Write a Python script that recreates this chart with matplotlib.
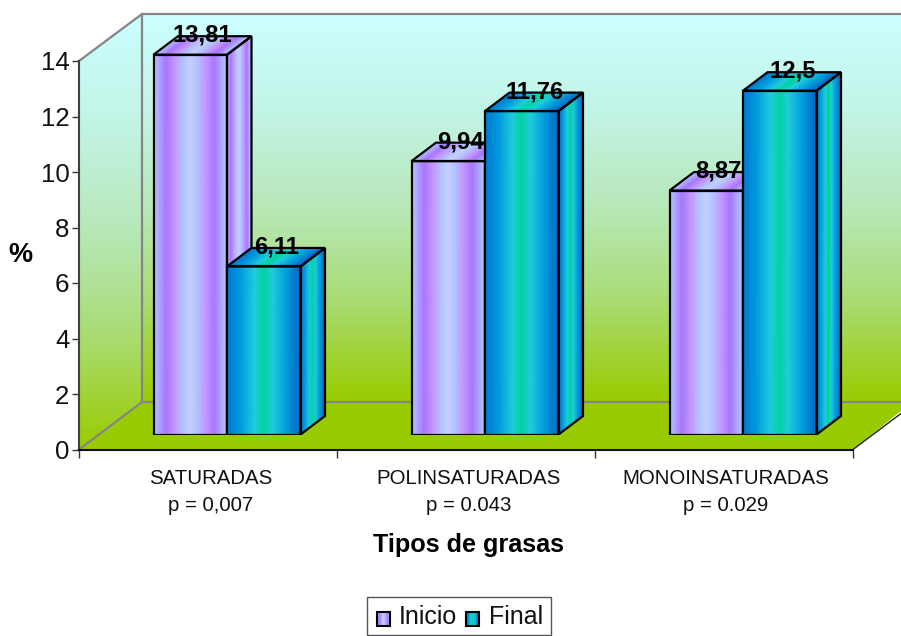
import numpy as np
import matplotlib.pyplot as plt
from matplotlib.colors import LinearSegmentedColormap
from matplotlib.patches import Polygon, Rectangle

plt.rcParams['font.family'] = ['Liberation Sans', 'DejaVu Sans']

# Datos
categorias = ['SATURADAS\np = 0,007', 'POLINSATURADAS\np = 0.043', 'MONOINSATURADAS\np = 0.029']
inicio = [13.81, 9.94, 8.87]
final = [6.11, 11.76, 12.5]
etiq_inicio = ['13,81', '9,94', '8,87']
etiq_final = ['6,11', '11,76', '12,5']
ticks_y = [0, 2, 4, 6, 8, 10, 12, 14]

W, H = 901, 636

# Gradientes
morado = LinearSegmentedColormap.from_list('morado', [
    (0.0, '#B4CCFF'), (0.17, '#A878FF'), (0.30, '#C898FF'), (0.40, '#B0C4FF'),
    (0.50, '#C8D0FF'), (0.60, '#B0C4FF'), (0.70, '#C898FF'), (0.83, '#A878FF'),
    (1.0, '#B4CCFF')])
turquesa = LinearSegmentedColormap.from_list('turquesa', [
    (0.0, '#0078D0'), (0.18, '#009ADD'), (0.38, '#22CCDC'), (0.50, '#00D4A0'),
    (0.62, '#22CCDC'), (0.82, '#009ADD'), (1.0, '#0068C4')])
pared = LinearSegmentedColormap.from_list('pared', [
    (0.0, '#CCFFFF'), (0.25, '#C2F4E6'), (0.5, '#B7E8B8'),
    (0.75, '#A9DB70'), (1.0, '#99CC00')])

fig = plt.figure(figsize=(W / 100, H / 100), dpi=100, facecolor='white')


def caja(x0, y_abajo, ancho, alto):
    return [x0 / W, 1 - y_abajo / H, ancho / W, alto / H]


# Fondo: paredes y suelo del grafico 3D, en pixeles
fondo = fig.add_axes([0, 0, 1, 1], zorder=0)
fondo.set_xlim(0, W)
fondo.set_ylim(H, 0)
fondo.axis('off')

grad = np.linspace(0, 1, 256).reshape(-1, 1)
im = fondo.imshow(grad, cmap=pared, extent=(142, W, 402, 14), aspect='auto', zorder=1)
im2 = fondo.imshow(grad, cmap=pared, extent=(79, 142, 449.5, 14), aspect='auto', zorder=1)
im2.set_clip_path(Polygon([(79, 61), (142, 14), (142, 402), (79, 449.5)],
                          transform=fondo.transData))
fondo.set_xlim(0, W)
fondo.set_ylim(H, 0)
fondo.add_patch(Polygon([(79, 449.5), (142, 402), (W + 20, 402), (W + 20, 395), (853, 449.5)],
                        fc='#99CC00', ec='none', zorder=2))
gris = '#858585'
fondo.plot([79, 142, W], [61, 14, 14], color=gris, lw=1.6, zorder=3)
fondo.plot([142, 142], [14, 402], color=gris, lw=1.6, zorder=3)
fondo.plot([142, W], [402, 402], color=gris, lw=1.6, zorder=3)
fondo.plot([79, 142], [449.5, 402], color=gris, lw=1.6, zorder=3)
fondo.plot([853, W], [449.5, 413.5], color='#222222', lw=1.0, zorder=3)

# Ejes frontales
ax = fig.add_axes(caja(79, 449.5, 774, 388.5), zorder=1)
ax.patch.set_alpha(0)
ax.set_xlim(0, 3)
ax.set_ylim(0, 14)
ax.spines['top'].set_visible(False)
ax.spines['right'].set_visible(False)
ax.spines['left'].set_color('#404040')
ax.spines['left'].set_linewidth(1.5)
ax.spines['bottom'].set_color('#111111')
ax.spines['bottom'].set_linewidth(1.5)
ax.set_yticks(ticks_y)
ax.set_yticklabels(ticks_y, fontsize=18.6, color='#111111')
ax.set_xticks([0, 1, 2, 3])
ax.set_xticklabels([])
ax.set_xticks([0.51, 1.51, 2.505], labels=categorias, minor=True, fontsize=14.7, color='#111111',
              linespacing=1.55)
ax.tick_params(axis='x', which='minor', length=0, pad=14)
ax.tick_params(axis='x', which='major', length=6, width=1, color='#333333')
ax.tick_params(axis='y', length=5, width=1, color='#333333', pad=2)

fig.text(20.5 / W, 1 - 255 / H, '%', fontsize=19.5, fontweight='bold', ha='center', va='center')
fig.text(468.5 / W, 1 - 545 / H, 'Tipos de grasas', fontsize=18.2, fontweight='bold',
         ha='center', va='center')

# Barras sobre el plano del suelo
barras = fig.add_axes(caja(98, 434.5, 774, 440), zorder=2)
barras.patch.set_alpha(0)
barras.axis('off')
barras.set_xlim(0, 3)
barras.set_ylim(0, 16)

ancho = 73.5 / 258
prof_x = 24.5 / 258
prof_y = 18.5 / 27.5
t = np.linspace(0, 1, 60)
C = np.vstack([t, t])


def cara(xa, ya, xb, yb, xc, yc, cmap):
    # cuadrilatero con bandas que corren de a -> b, extendido hasta c
    X = np.vstack([xa + (xb - xa) * t, xa + (xb - xa) * t + (xc - xb)])
    Y = np.vstack([ya + (yb - ya) * t, ya + (yb - ya) * t + (yc - yb)])
    barras.pcolormesh(X, Y, C, cmap=cmap, shading='gouraud', vmin=0, vmax=1, zorder=3)


def barra3d(x0, valor, cmap):
    x1 = x0 + ancho
    cara(x0, 0, x1, 0, x1, valor, cmap)
    cara(x1, 0, x1 + prof_x, prof_y, x1 + prof_x, valor + prof_y, cmap)
    cara(x0, valor, x1, valor, x1 + prof_x, valor + prof_y, cmap)
    for pts in ([(x0, 0), (x1, 0), (x1, valor), (x0, valor)],
                [(x1, 0), (x1 + prof_x, prof_y), (x1 + prof_x, valor + prof_y), (x1, valor)],
                [(x0, valor), (x1, valor), (x1 + prof_x, valor + prof_y), (x0 + prof_x, valor + prof_y)]):
        barras.add_patch(Polygon(pts, fc='none', ec='black', lw=1.6, zorder=3, joinstyle='miter'))


for i in range(3):
    centro = i + 0.5
    barra3d(centro - ancho, inicio[i], morado)
    barra3d(centro, final[i], turquesa)

for i in range(3):
    centro = i + 0.5
    barras.text(centro - ancho / 2 + prof_x / 2, inicio[i] + prof_y + 0.04, etiq_inicio[i], fontsize=17.2,
                fontweight='bold', ha='center', va='center', zorder=5)
    barras.text(centro + ancho / 2 + prof_x / 2 + 0.004, final[i] + prof_y + 0.04, etiq_final[i], fontsize=17.2,
                fontweight='bold', ha='center', va='center', zorder=5)

# Leyenda
fondo.add_patch(Rectangle((367, 597), 184, 38, fc='white', ec='#555555', lw=1.0, zorder=4))
for x_ley, cmap, nombre, x_txt in ((377, morado, 'Inicio', 399), (466, turquesa, 'Final', 489)):
    fondo.imshow(np.linspace(0, 1, 64).reshape(1, -1), cmap=cmap, aspect='auto',
                 extent=(x_ley, x_ley + 13, 626, 612), zorder=5)
    fondo.add_patch(Rectangle((x_ley, 612), 13, 14, fc='none', ec='black', lw=1.5, zorder=6))
    fondo.text(x_txt, 616.5, nombre, fontsize=18, ha='left', va='center', color='#111111', zorder=6)
fondo.set_xlim(0, W)
fondo.set_ylim(H, 0)

fig.savefig('out.png', dpi=100)
